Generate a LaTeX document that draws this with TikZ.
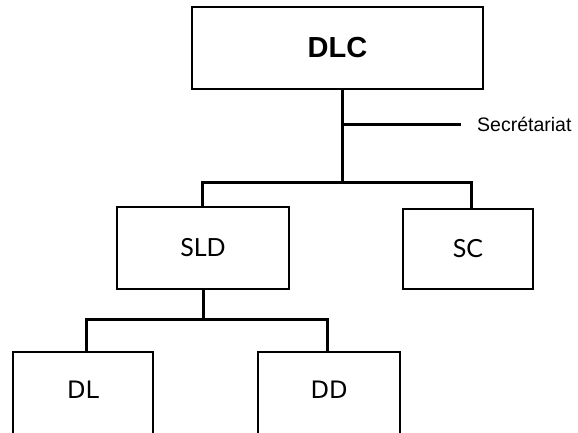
\documentclass[tikz,border=0pt]{standalone}
\usepackage{fontspec}
\setmainfont{Liberation Sans}
\newfontfamily\lightfont{Lato}
\newfontfamily\dejafont{DejaVu Sans}
\usetikzlibrary{positioning}

\begin{document}
\begin{tikzpicture}[x=1pt,y=-1pt,
    unitbox/.style={draw, line width=1.6pt, fill=white, inner sep=0pt},
    conn/.style={line width=3pt}]

  \useasboundingbox (0,0) rectangle (578,432);
  \clip (0,0) rectangle (578,432);

  %% boxes
  \node[unitbox, minimum width=291, minimum height=82, font=\bfseries\fontsize{29}{33}\selectfont]
    (dlc) at (337.5,48) {DLC};
  \node[unitbox, minimum width=172, minimum height=82, font=\lightfont\fontsize{25}{29}\selectfont]
    (sld) at (203,248) {SLD};
  \node[unitbox, minimum width=130, minimum height=80, font=\lightfont\fontsize{25}{29}\selectfont]
    (sc) at (468,249) {SC};
  \node[unitbox, minimum width=140, minimum height=110, anchor=north,
    label={[anchor=center, yshift=-39pt, font=\dejafont\fontsize{24}{28}\selectfont]north:DL}]
    (dl) at (83,351) {};
  \node[unitbox, minimum width=142, minimum height=110, anchor=north,
    label={[anchor=center, yshift=-39pt, font=\dejafont\fontsize{24}{28}\selectfont]north:DD}]
    (dd) at (329,351) {};

  %% secretariat
  \coordinate (sec) at (342,124);
  \coordinate (secend) at (461,124);
  \node[anchor=west, inner sep=0pt, font=\fontsize{19.5}{22}\selectfont]
    (sectxt) at (477,124) {Secrétariat};

  %% branching points
  \coordinate (top) at (342,182);
  \coordinate (topl) at (202,182);
  \coordinate (topr) at (471,182);
  \coordinate (mid) at (203,319);
  \coordinate (midl) at (86,319);
  \coordinate (midr) at (327,319);

  \draw[conn] (dlc.south -| sec) -- (top);
  \draw[conn] (sec) -- (secend);
  \draw[conn] (topl |- sld.north) -- (topl) -- (topr) -- (topr |- sc.north);
  \draw[conn] (sld.south -| mid) -- (mid);
  \draw[conn] (midl |- dl.north) -- (midl) -- (midr) -- (midr |- dd.north);

\end{tikzpicture}
\end{document}
